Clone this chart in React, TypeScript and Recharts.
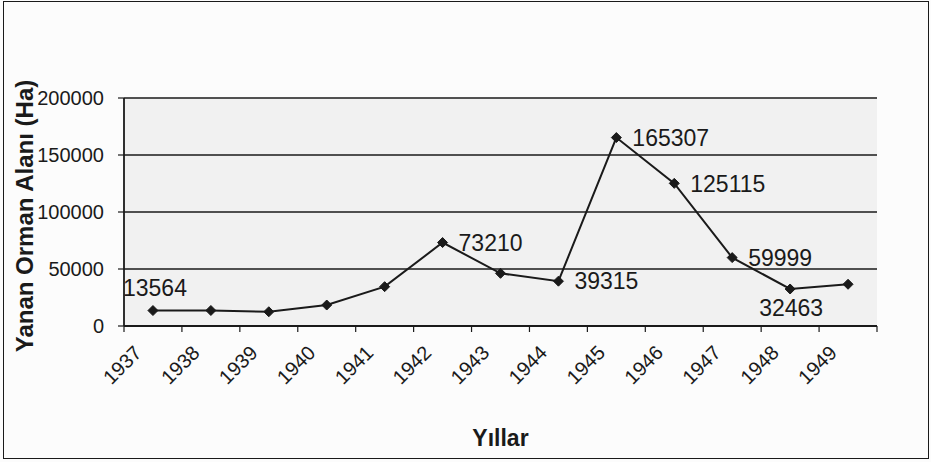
import React from 'react';
import { LineChart, Line, XAxis, YAxis, CartesianGrid, LabelList, Label } from 'recharts';

// ---- data ----
const years = ['1937', '1938', '1939', '1940', '1941', '1942', '1943', '1944', '1945', '1946', '1947', '1948', '1949'];
const burnedArea = [13564, 13600, 12500, 18400, 34500, 73210, 46200, 39315, 165307, 125115, 59999, 32463, 36600];
const labelPositions: (string | null)[] = ['above', null, null, null, null, 'right', null, 'right', 'right', 'right', 'right', 'below', null];
const yTicks = [0, 50000, 100000, 150000, 200000];
const xTitle = 'Yıllar';
const yTitle = 'Yanan Orman Alanı (Ha)';

const data = years.map((year, i) => ({ year, area: burnedArea[i], pos: labelPositions[i] }));

// ---- layout ----
const W = 931;
const H = 462;
const MARGIN = { top: 98, right: 54, bottom: 0, left: 0 };
const Y_AXIS_W = 124;
const X_AXIS_H = 136;
const PLOT_W = W - MARGIN.right - MARGIN.left - Y_AXIS_W;
const HALF = PLOT_W / (years.length * 2);
const INK = '#1a1a1a';
const FONT = '"Liberation Sans", Arial, sans-serif';

const XTick = (props: any) => {
  const { x, y, payload, index } = props;
  const tx = x - 10;
  const ty = y + 28;
  return (
    <g>
      <line x1={x - HALF} x2={x - HALF} y1={y} y2={y + 6} stroke={INK} strokeWidth={1.2} />
      {index === years.length - 1 && (
        <line x1={x + HALF} x2={x + HALF} y1={y} y2={y + 6} stroke={INK} strokeWidth={1.2} />
      )}
      <text
        x={tx}
        y={ty}
        transform={`rotate(-45 ${tx} ${ty})`}
        textAnchor="end"
        fontSize={20}
        fill={INK}
        fontFamily={FONT}
      >
        {payload.value}
      </text>
    </g>
  );
};

const Diamond = (props: any) => {
  const { cx, cy, index } = props;
  if (cx == null || cy == null) return <g key={`d-${index}`} />;
  const r = 5;
  return (
    <polygon
      key={`d-${index}`}
      points={`${cx},${cy - r} ${cx + r},${cy} ${cx},${cy + r} ${cx - r},${cy}`}
      fill={INK}
      stroke={INK}
      strokeWidth={1}
    />
  );
};

const DataLabel = (props: any) => {
  const { x, y, value, index } = props;
  const pos = labelPositions[index];
  if (!pos) return null;
  let tx = x;
  let ty = y;
  let anchor: 'start' | 'middle' = 'middle';
  if (pos === 'right') {
    tx = x + 16;
    anchor = 'start';
  } else if (pos === 'above') {
    tx = x + 2;
    ty = y - 23;
  } else if (pos === 'below') {
    tx = x + 1;
    ty = y + 19;
  }
  return (
    <text x={tx} y={ty} dy="0.36em" textAnchor={anchor} fontSize={23} fill={INK} fontFamily={FONT}>
      {value}
    </text>
  );
};

const YTitle = (props: any) => {
  const vb = props.viewBox || { x: 0, y: 0, width: 0, height: 0 };
  const cx = vb.x + 24;
  const cy = vb.y + vb.height / 2 + 4;
  return (
    <text
      x={cx}
      y={cy}
      transform={`rotate(-90 ${cx} ${cy})`}
      textAnchor="middle"
      dy="0.36em"
      fontSize={24}
      fontWeight="bold"
      fill={INK}
      fontFamily={FONT}
    >
      {yTitle}
    </text>
  );
};

const XTitle = (props: any) => {
  const vb = props.viewBox || { x: 0, y: 0, width: 0, height: 0 };
  const cx = vb.x + vb.width / 2;
  const cy = vb.y + 112;
  return (
    <text x={cx} y={cy} dy="0.36em" textAnchor="middle" fontSize={23} fontWeight="bold" fill={INK} fontFamily={FONT}>
      {xTitle}
    </text>
  );
};

export default function App() {
  return (
    <div style={{ position: 'absolute', left: 0, top: 0, width: W, height: H, background: '#fcfcfc' }}>
      <div
        style={{
          position: 'absolute',
          left: 3,
          top: 1,
          width: 924,
          height: 456,
          border: `1.5px solid ${INK}`,
        }}
      />
      <div style={{ position: 'absolute', left: 0, top: 0 }}>
        <LineChart width={W} height={H} data={data} margin={MARGIN}>
          <CartesianGrid vertical={false} stroke={INK} strokeWidth={1.5} fill="#f1f1f1" />
          <XAxis
            dataKey="year"
            height={X_AXIS_H}
            padding={{ left: HALF, right: HALF }}
            tickLine={false}
            tickSize={0}
            tickMargin={0}
            interval={0}
            axisLine={{ stroke: INK, strokeWidth: 1.8 }}
            tick={<XTick />}
          >
            <Label content={<XTitle />} />
          </XAxis>
          <YAxis
            width={Y_AXIS_W}
            domain={[0, 200000]}
            ticks={yTicks}
            interval={0}
            tickSize={6}
            tickMargin={14}
            tickLine={{ stroke: INK, strokeWidth: 1.2 }}
            axisLine={{ stroke: INK, strokeWidth: 1.8 }}
            tick={{ fontSize: 20, fill: INK, fontFamily: FONT }}
          >
            <Label content={<YTitle />} />
          </YAxis>
          <YAxis
            yAxisId="r"
            orientation="right"
            width={0}
            domain={[0, 200000]}
            tick={false}
            tickLine={false}
            axisLine={{ stroke: INK, strokeWidth: 1.8 }}
          />
          <Line
            type="linear"
            dataKey="area"
            stroke={INK}
            strokeWidth={2}
            dot={Diamond}
            activeDot={false}
            isAnimationActive={false}
          >
            <LabelList dataKey="area" content={DataLabel} />
          </Line>
        </LineChart>
      </div>
    </div>
  );
}
